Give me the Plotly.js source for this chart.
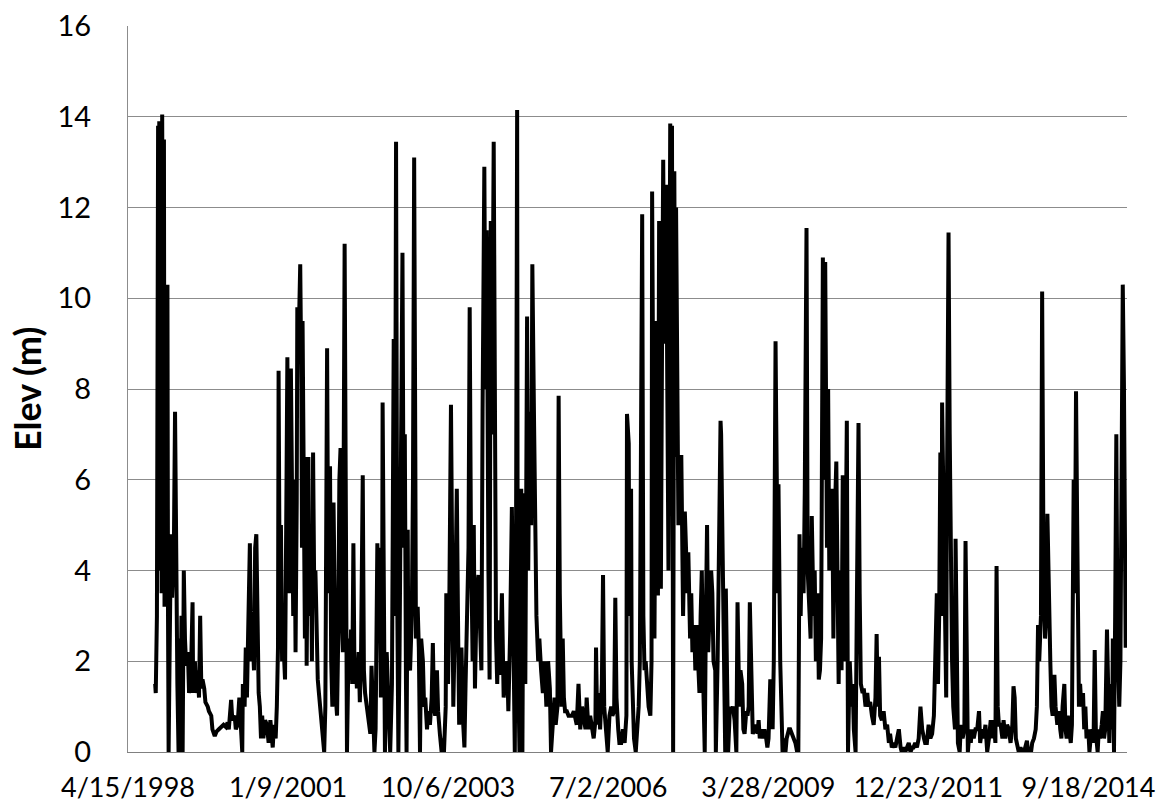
<!DOCTYPE html>
<html>
<head>
<meta charset="utf-8">
<script src="https://cdn.plot.ly/plotly-3.0.1.min.js"></script>
<style>
  html, body { margin: 0; padding: 0; background: #ffffff; }
  #chart { width: 1167px; height: 807px; }
</style>
</head>
<body>
<div id="chart"></div>
<script>
// Time stamps are decimal years; values are elevations (m).
const yrs1998 = [1998.75,1998.76,1998.78,1998.80,1998.81,1998.82,1998.83,1998.84,1998.86,1998.87,1998.89,1998.90,1998.91,1998.92,1998.94,1998.96,1998.97,1998.98,1999.00,1999.02,1999.04,1999.07,1999.09,1999.11,1999.13,1999.15,1999.16,1999.18,1999.20,1999.22,1999.24,1999.26,1999.28,1999.31,1999.33,1999.36,1999.39,1999.40,1999.43,1999.45,1999.48,1999.50,1999.52,1999.54,1999.56,1999.59,1999.61,1999.65,1999.67,1999.71,1999.73,1999.77,1999.80,1999.84,1999.89,1999.92,1999.96,1999.99,2000.01,2000.05,2000.07,2000.11,2000.13,2000.16,2000.19,2000.22,2000.24,2000.25,2000.28,2000.30,2000.32,2000.34,2000.37,2000.39,2000.41,2000.44,2000.46,2000.48,2000.50,2000.52,2000.54,2000.56,2000.58,2000.60,2000.63,2000.66,2000.69,2000.72,2000.74,2000.76,2000.78,2000.81,2000.83,2000.85,2000.86,2000.88,2000.90,2000.92,2000.94,2000.97,2000.99,2001.01,2001.03,2001.05,2001.07,2001.09,2001.11,2001.13,2001.15,2001.17,2001.18,2001.21,2001.23,2001.25,2001.26,2001.27,2001.29,2001.31,2001.33,2001.34,2001.37,2001.38,2001.41,2001.43,2001.45,2001.47,2001.49,2001.51,2001.53,2001.55,2001.58,2001.60,2001.62,2001.64,2001.66];
const elev1998 = [1.5,1.3,3.0,13.8,4.0,13.9,5.0,13.8,3.5,14.05,6.0,13.5,3.2,10.3,4.0,10.3,3.0,0,2.5,4.8,3.4,4.5,7.5,2.5,1.5,0,2.5,0,3.0,0,4.0,2.5,1.9,2.2,1.3,1.6,3.3,1.3,2.0,1.3,1.8,1.2,3.0,1.4,1.6,1.4,1.1,1.0,0.9,0.8,0.5,0.35,0.45,0.5,0.55,0.6,0.55,0.65,0.5,1.15,0.7,0.8,0.5,0.6,1.2,0.5,0,1.5,1.0,2.3,1.2,2.6,4.6,2.0,2.8,1.8,4.5,4.8,2.5,1.3,1.0,0.3,0.8,0.3,0.7,0.6,0.2,0.7,0.4,0.1,0.6,0.3,1.0,2.3,8.4,3.0,5.0,2.0,2.5,1.6,5.0,8.7,4.0,3.5,8.45,4.5,3.0,6.0,2.2,5.5,9.8,9.5,10.75,8.0,4.5,9.5,5.5,2.5,6.5,1.9,6.5,3.0,5.0,2.0,6.6,3.5,4.0,2.5,1.6,1.3,0.9,0.6,0.2,0,1.0];

const yrs2001 = [2001.67,2001.69,2001.71,2001.74,2001.76,2001.78,2001.80,2001.82,2001.84,2001.86,2001.88,2001.90,2001.92,2001.94,2001.96,2001.99,2002.01,2002.03,2002.06,2002.08,2002.10,2002.12,2002.14,2002.16,2002.18,2002.20,2002.23,2002.25,2002.27,2002.30,2002.32,2002.34,2002.37,2002.40,2002.43,2002.45,2002.48,2002.50,2002.52,2002.55,2002.57,2002.59,2002.61,2002.63,2002.64,2002.67,2002.68,2002.71,2002.73,2002.75,2002.77,2002.80,2002.81,2002.83,2002.85,2002.87,2002.89,2002.91,2002.93,2002.96,2002.98,2003.00,2003.02,2003.04,2003.05,2003.07,2003.08,2003.11,2003.14,2003.16,2003.18,2003.20,2003.21,2003.24,2003.26,2003.28,2003.30,2003.33,2003.35,2003.37,2003.40,2003.42,2003.45,2003.48,2003.50,2003.52,2003.54,2003.57,2003.59,2003.62,2003.65,2003.67,2003.69,2003.72,2003.73,2003.76,2003.78,2003.81,2003.83,2003.85,2003.88,2003.91,2003.93,2003.95,2003.97,2003.99,2004.02,2004.04,2004.06,2004.09,2004.11,2004.13,2004.15,2004.18,2004.20,2004.22,2004.25,2004.28,2004.31,2004.33,2004.35,2004.38,2004.40,2004.42,2004.45,2004.47,2004.49,2004.51,2004.54,2004.56,2004.58,2004.60,2004.62,2004.65,2004.68,2004.71,2004.74,2004.77,2004.79,2004.82,2004.85,2004.88,2004.90,2004.92,2004.94,2004.95,2004.98,2004.99,2005.01,2005.03,2005.05,2005.08,2005.11];
const elev2001 = [6.0,8.9,3.5,6.3,2.0,1.0,5.5,2.0,1.2,0.8,2.5,6.0,6.7,3.0,2.2,11.2,2.0,0,2.5,1.6,2.7,1.5,4.6,1.5,2.0,1.4,2.2,1.1,2.0,6.1,1.8,1.3,1.0,0.6,0.4,1.9,0.8,0,0.5,4.6,3.0,4.5,1.2,2.0,7.7,1.8,0,2.2,1.5,0.5,0,1.5,4.0,9.1,3.0,13.45,3.5,0,2.2,7.2,11.0,4.5,7.0,1.5,0,4.9,2.0,1.8,3.0,6.0,13.1,6.5,2.5,3.2,2.3,0,2.5,2.0,1.0,1.2,0.5,0.9,0.6,1.2,2.4,1.0,0.8,1.8,0.9,0.4,0,0.3,0,1.0,3.5,1.5,3.0,7.65,2.0,1.0,3.0,5.8,3.0,0.6,1.2,2.3,0.6,0.1,1.5,3.0,4.5,9.8,5.0,2.0,5.0,1.4,3.5,3.9,2.5,1.8,7.5,12.9,8.0,11.5,4.0,1.6,11.7,7.0,13.45,6.0,2.5,1.5,2.9,1.7,3.5,1.2,1.6,2.0,0.9,2.6,5.4,2.0,0,4.0,14.15,2.5,0,5.0,5.8,0,5.7,1.5,9.6];

const yrs2005 = [2005.13,2005.15,2005.18,2005.20,2005.23,2005.25,2005.27,2005.30,2005.32,2005.35,2005.38,2005.41,2005.44,2005.47,2005.50,2005.52,2005.55,2005.58,2005.60,2005.63,2005.65,2005.67,2005.70,2005.72,2005.74,2005.76,2005.79,2005.82,2005.85,2005.88,2005.91,2005.94,2005.96,2005.99,2006.02,2006.05,2006.08,2006.11,2006.13,2006.16,2006.19,2006.22,2006.25,2006.28,2006.29,2006.31,2006.33,2006.36,2006.39,2006.41,2006.43,2006.46,2006.49,2006.52,2006.55,2006.57,2006.60,2006.62,2006.64,2006.67,2006.69,2006.72,2006.75,2006.78,2006.81,2006.82,2006.85,2006.86,2006.89,2006.90,2006.92,2006.94,2006.97,2006.99,2007.02,2007.04,2007.05,2007.08,2007.10,2007.12,2007.14,2007.17,2007.19,2007.22,2007.24,2007.25,2007.28,2007.29,2007.32,2007.33,2007.35,2007.37,2007.40,2007.42,2007.44,2007.46,2007.49,2007.51,2007.53,2007.56,2007.58,2007.59,2007.61,2007.63,2007.65,2007.66,2007.68,2007.70,2007.73,2007.75,2007.78,2007.81,2007.83,2007.85,2007.87,2007.90,2007.92,2007.94,2007.97,2007.99,2008.01,2008.03,2008.06,2008.08,2008.10,2008.13,2008.15,2008.17,2008.19,2008.21,2008.23,2008.26,2008.28,2008.30,2008.33,2008.34,2008.37,2008.39,2008.42,2008.43,2008.46,2008.48,2008.50,2008.51,2008.53,2008.55,2008.58];
const elev2005 = [4.0,7.5,5.0,10.75,7.2,4.0,3.0,2.0,2.5,1.8,1.3,2.0,1.0,2.0,1.4,0,0.8,1.2,0.6,1.0,7.85,3.5,1.0,2.5,1.2,0.9,0.9,0.8,0.8,0.8,0.9,0.7,0.6,1.5,0.5,1.0,0.7,0.5,1.2,0.5,0.8,0.5,0.3,0.7,2.3,0.6,1.3,0.5,1.5,3.9,1.0,0.5,0,0.8,1.0,0.8,0.9,3.4,1.2,0.5,0.2,0.2,0.5,0.2,0.8,7.45,6.8,3.0,5.8,2.0,1.0,0.3,0,0.5,1.0,2.0,5.3,11.85,3.0,1.8,2.0,1.5,1.0,0.8,2.0,12.35,3.5,2.5,9.5,5.0,3.45,11.7,3.6,9.0,13.05,9.0,12.5,8.0,4.0,13.85,9.0,13.8,0,12.8,6.5,12.0,6.8,5.0,6.5,6.5,3.0,5.3,4.5,3.5,4.4,2.5,3.5,2.2,2.8,1.8,2.8,2.0,1.3,3.0,4.0,1.2,0,3.0,5.0,2.2,3.0,4.0,3.5,2.0,1.8,0,2.0,4.5,7.3,7.0,3.5,1.5,0,3.6,0.8,0,1.0];

const yrs2008 = [2008.60,2008.63,2008.66,2008.69,2008.71,2008.74,2008.76,2008.79,2008.81,2008.83,2008.86,2008.88,2008.90,2008.92,2008.95,2008.97,2009.00,2009.03,2009.05,2009.07,2009.09,2009.12,2009.15,2009.17,2009.20,2009.22,2009.24,2009.27,2009.29,2009.31,2009.33,2009.36,2009.37,2009.40,2009.41,2009.44,2009.46,2009.48,2009.51,2009.53,2009.55,2009.59,2009.61,2009.64,2009.67,2009.70,2009.73,2009.75,2009.77,2009.79,2009.81,2009.84,2009.86,2009.89,2009.91,2009.93,2009.96,2009.98,2010.01,2010.03,2010.05,2010.08,2010.10,2010.12,2010.14,2010.17,2010.19,2010.21,2010.24,2010.26,2010.28,2010.30,2010.33,2010.35,2010.37,2010.40,2010.42,2010.44,2010.46,2010.49,2010.51,2010.53,2010.55,2010.58,2010.60,2010.63,2010.66,2010.68,2010.70,2010.73,2010.75,2010.78,2010.80,2010.82,2010.85,2010.87,2010.90,2010.93,2010.95,2010.98,2011.01,2011.04,2011.07,2011.09,2011.11,2011.13,2011.15,2011.18,2011.21,2011.24,2011.27,2011.30,2011.32,2011.35,2011.38,2011.41,2011.44,2011.47,2011.50,2011.52,2011.55,2011.58,2011.61,2011.64,2011.67,2011.70,2011.72,2011.75,2011.78,2011.81,2011.84,2011.87,2011.90,2011.92];
const elev2008 = [0.9,1.0,0.7,0,3.3,1.0,1.8,1.5,0.5,0.4,0.9,0.8,1.0,3.3,1.0,0.4,0.5,0.6,0.4,0.7,0.3,0.5,0.3,0.5,0.3,0.1,0.3,1.6,1.5,0.5,2.0,9.05,7.5,3.5,5.9,2.0,1.0,0,0.3,0,0.3,0.5,0.5,0.4,0.3,0.2,0,0,4.8,3.0,4.5,3.5,5.7,11.55,4.0,3.2,2.5,5.2,3.0,4.0,2.0,3.5,1.6,1.8,2.5,10.9,6.0,10.8,4.5,8.0,4.0,5.0,5.8,2.5,5.0,6.4,3.0,1.5,4.0,1.8,6.1,2.0,3.0,7.3,0,2.0,1.0,1.5,0.5,0,3.0,7.25,3.5,1.5,1.3,1.4,1.0,1.3,1.0,1.1,0.8,0.6,1.2,2.6,1.0,2.1,0.8,0.7,0.9,0.5,0.6,0.2,0.4,0.1,0.2,0.1,0.3,0.5,0.1,0,0.1,0,0.1,0.2,0,0.1,0.1,0.2,0.1,0.3,1.0,0.5,0.3,0.2];

const yrs2012 = [2011.95,2011.98,2012.01,2012.04,2012.07,2012.09,2012.12,2012.14,2012.16,2012.18,2012.20,2012.21,2012.24,2012.26,2012.28,2012.29,2012.32,2012.34,2012.36,2012.38,2012.40,2012.43,2012.44,2012.47,2012.48,2012.51,2012.53,2012.56,2012.59,2012.61,2012.63,2012.65,2012.68,2012.70,2012.72,2012.75,2012.78,2012.81,2012.84,2012.86,2012.89,2012.92,2012.95,2012.98,2013.01,2013.04,2013.06,2013.09,2013.12,2013.14,2013.16,2013.18,2013.21,2013.24,2013.26,2013.29,2013.32,2013.35,2013.38,2013.41,2013.43,2013.45,2013.47,2013.50,2013.52,2013.55,2013.58,2013.61,2013.63,2013.66,2013.68,2013.70,2013.73,2013.75,2013.78,2013.81,2013.83,2013.85,2013.87,2013.90,2013.92,2013.94,2013.97,2013.99,2014.01,2014.03,2014.06,2014.08,2014.10,2014.13,2014.15,2014.18,2014.21,2014.23,2014.25,2014.27,2014.30,2014.32,2014.34,2014.36,2014.39,2014.41,2014.43,2014.46,2014.48,2014.50,2014.52,2014.55,2014.57,2014.59,2014.62,2014.64,2014.66,2014.68,2014.71,2014.73,2014.75,2014.78,2014.80,2014.82,2014.84,2014.87,2014.89,2014.91,2014.94,2014.96,2014.98,2015.00,2015.03,2015.05,2015.07,2015.09,2015.12,2015.13,2015.15,2015.17,2015.19,2015.21,2015.24,2015.26,2015.28,2015.30,2015.32,2015.35];
const elev2012 = [0.2,0.6,0.3,0.4,0.8,1.8,3.5,1.5,3.0,6.6,3.0,7.7,5.0,2.0,1.2,5.0,11.45,7.0,4.0,2.0,1.0,0.5,4.7,1.5,0.2,0,0.6,0.3,0.5,4.65,1.0,0,0.5,0.2,0.5,0.3,0.5,0.5,0.9,0.2,0.5,0.3,0.6,0,0.3,0.7,0.3,0.7,0.2,4.1,1.0,0.6,0.6,0.3,0.7,0.3,0.6,0.5,0.2,0.6,1.45,1.2,0.3,0.1,0,0.1,0,0,0.1,0.25,0,0.1,0,0.2,0.3,0.5,1.0,2.8,2.0,3.0,10.15,5.0,2.5,3.0,5.25,3.5,2.0,1.0,0.8,1.7,1.0,0.6,0.9,0.5,0.3,1.0,1.5,0.5,0.3,0.8,0.3,0.2,0.6,6.0,3.5,7.95,5.0,1.0,1.5,1.0,1.3,0.5,1.0,0.3,0.5,0,0.3,0.5,0.2,2.25,0.4,0,0.5,0.3,0.6,0.9,0.3,0.5,2.7,0.8,0.2,1.5,0.5,2.5,0,3.0,7.0,2.5,1.0,2.0,5.0,10.3,8.1,2.3];

const tickDates = ['1998-04-15','2001-01-09','2003-10-06','2006-07-02','2009-03-28','2011-12-23','2014-09-18'];
const tickLabels = ['4/15/1998','1/9/2001','10/6/2003','7/2/2006','3/28/2009','12/23/2011','9/18/2014'];
const xStart = '1998-04-15';
const xEnd = '2015-05-17';
const yTicks = [0,2,4,6,8,10,12,14,16];

function yearToDate(y) {
  const yr = Math.floor(y);
  const a = Date.UTC(yr, 0, 1), b = Date.UTC(yr + 1, 0, 1);
  const d = new Date(a + (y - yr) * (b - a));
  return d.toISOString().slice(0, 19).replace('T', ' ');
}

const allYears = [].concat(yrs1998, yrs2001, yrs2005, yrs2008, yrs2012);
const allElev = [].concat(elev1998, elev2001, elev2005, elev2008, elev2012);

const trace = {
  x: allYears.map(yearToDate),
  y: allElev,
  type: 'scatter',
  mode: 'lines',
  line: { color: '#000000', width: 4, shape: 'linear' },
  hoverinfo: 'x+y'
};

const font = "Lato, 'Open Sans', sans-serif";
const layout = {
  width: 1167,
  height: 807,
  margin: { l: 128, r: 40, t: 26, b: 55 },
  paper_bgcolor: '#ffffff',
  plot_bgcolor: '#ffffff',
  showlegend: false,
  font: { family: font, size: 28, color: '#000000' },
  xaxis: {
    type: 'date',
    range: [xStart, xEnd],
    tickmode: 'array',
    tickvals: tickDates,
    ticktext: tickLabels,
    showgrid: false,
    zeroline: false,
    showline: true,
    linecolor: '#808080',
    linewidth: 1,
    ticks: 'outside',
    ticklen: 12,
    tickcolor: 'rgba(0,0,0,0)',
    tickfont: { family: font, size: 27, color: '#000000' },
    fixedrange: true
  },
  yaxis: {
    range: [0, 16],
    tickmode: 'array',
    tickvals: yTicks,
    showgrid: true,
    gridcolor: '#8c8c8c',
    gridwidth: 1,
    zeroline: false,
    showline: true,
    linecolor: '#8c8c8c',
    linewidth: 1,
    ticks: 'outside',
    ticklen: 30,
    tickcolor: 'rgba(0,0,0,0)',
    tickfont: { family: font, size: 29, color: '#000000' },
    fixedrange: true
  },
  annotations: [{
    text: '<b>Elev (m)</b>',
    xref: 'paper', yref: 'paper',
    x: -0.101, y: 0.5,
    xanchor: 'center', yanchor: 'middle',
    textangle: -90,
    showarrow: false,
    font: { family: font, size: 36, color: '#000000' }
  }]
};

Plotly.newPlot('chart', [trace], layout, { displayModeBar: false, staticPlot: true });
</script>
</body>
</html>
